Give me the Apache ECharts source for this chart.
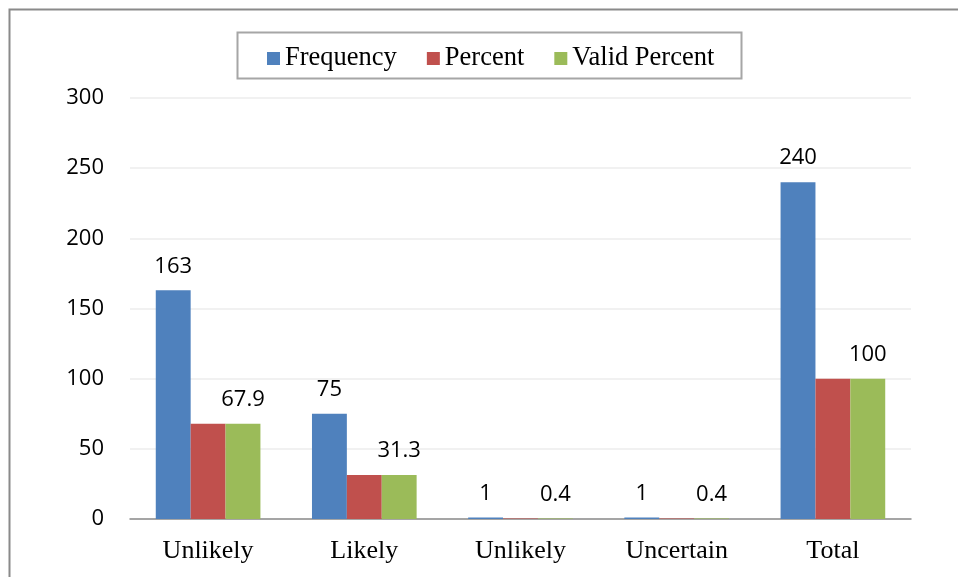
<!DOCTYPE html>
<html>
<head>
<meta charset="utf-8">
<script src="https://cdn.jsdelivr.net/npm/echarts@6/dist/echarts.min.js"></script>
<style>
  html, body { margin: 0; padding: 0; background: #fff; }
  #chart { width: 958px; height: 577px; }
</style>
</head>
<body>
<div id="chart"></div>
<script>
var categories = ['Unlikely', 'Likely', 'Unlikely', 'Uncertain', 'Total'];
var frequency = [163, 75, 1, 1, 240];
var percent = [67.9, 31.3, 0.4, 0.4, 100];
var validPercent = [67.9, 31.3, 0.4, 0.4, 100];
var yTicks = { min: 0, max: 300, interval: 50 };

var numFont = 'Open Sans';
var serifFont = 'Liberation Serif';

var valueLabel = {
    show: true,
    position: 'top',
    distance: 13,
    color: '#000',
    fontFamily: numFont,
    fontSize: 22
};

option = {
    backgroundColor: '#FFFFFF',
    animation: false,
    graphic: [{
        // outer frame (only top and left edges visible)
        type: 'rect',
        shape: { x: 9.5, y: 9.5, width: 1000, height: 1000 },
        style: { fill: 'none', stroke: '#8a8a8a', lineWidth: 2 }
    }, {
        // legend box
        type: 'rect',
        shape: { x: 237.5, y: 32.5, width: 504, height: 46 },
        style: { fill: '#fff', stroke: '#a6a6a6', lineWidth: 2 },
        z: 0
    }],
    legend: {
        left: 262,
        top: 40,
        itemWidth: 13,
        itemHeight: 13,
        itemGap: 30,
        icon: 'rect',
        textStyle: {
            fontFamily: serifFont,
            fontSize: 26.5,
            color: '#000'
        },
        z: 5
    },
    grid: {
        left: 130,
        right: 47,
        top: 98,
        bottom: 58
    },
    xAxis: {
        type: 'category',
        data: categories,
        axisLine: { lineStyle: { color: '#8c8c8c', width: 1.5 } },
        axisTick: { show: false },
        axisLabel: {
            fontFamily: serifFont,
            fontSize: 26,
            color: '#000',
            margin: 19
        }
    },
    yAxis: {
        type: 'value',
        min: yTicks.min,
        max: yTicks.max,
        interval: yTicks.interval,
        axisLine: { show: false },
        axisTick: { show: false },
        axisLabel: {
            fontFamily: numFont,
            fontSize: 22,
            color: '#000',
            margin: 26
        },
        splitLine: { lineStyle: { color: '#ededed', width: 1.5 } }
    },
    series: [{
        name: 'Frequency',
        type: 'bar',
        data: frequency,
        barGap: '0%',
        barCategoryGap: '33%',
        itemStyle: { color: '#4F81BD' },
        label: valueLabel
    }, {
        name: 'Percent',
        type: 'bar',
        data: percent,
        itemStyle: { color: '#C0504D' }
    }, {
        name: 'Valid Percent',
        type: 'bar',
        data: validPercent,
        itemStyle: { color: '#9BBB59' },
        label: valueLabel
    }]
};

myChart = echarts.init(document.getElementById('chart'));
myChart.setOption(option);
</script>
</body>
</html>
